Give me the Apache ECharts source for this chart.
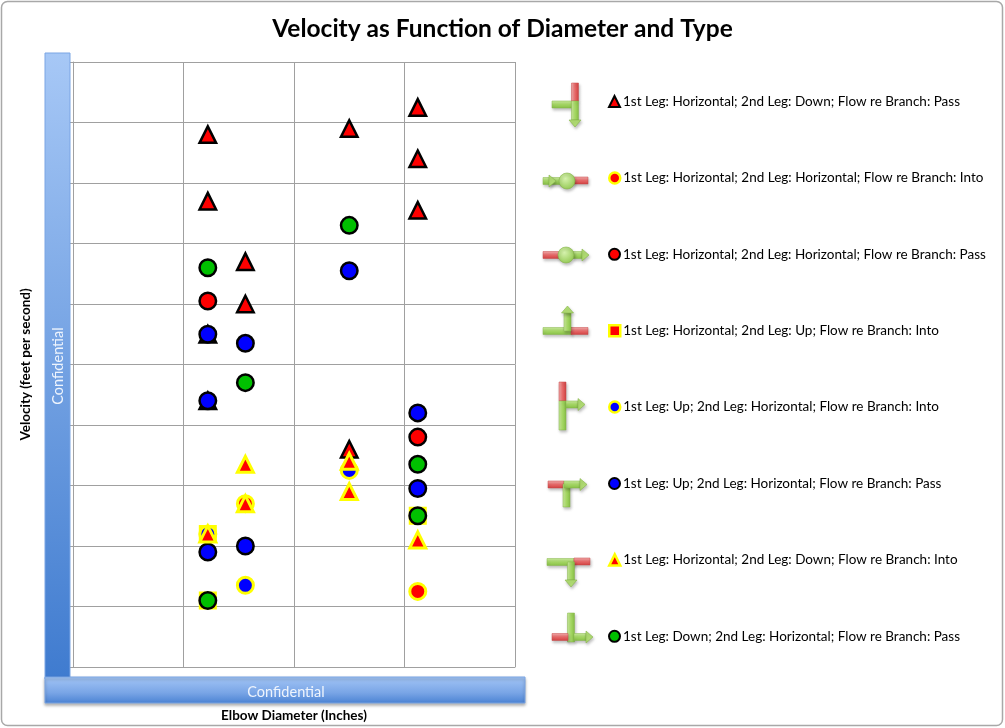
<!DOCTYPE html>
<html>
<head>
<meta charset="utf-8">
<script src="https://cdn.jsdelivr.net/npm/echarts@6/dist/echarts.min.js"></script>
<style>
html,body{margin:0;padding:0;background:#fff;}
#chart{width:1005px;height:728px;}
</style>
</head>
<body>
<div id="chart"></div>
<script>
// ---- data ----
const seriesNames = [
  '1st Leg: Horizontal; 2nd Leg: Down; Flow re Branch: Pass',
  '1st Leg: Horizontal; 2nd Leg: Horizontal; Flow re Branch: Into',
  '1st Leg: Horizontal; 2nd Leg: Horizontal; Flow re Branch: Pass',
  '1st Leg: Horizontal; 2nd Leg: Up; Flow re Branch: Into',
  '1st Leg: Up; 2nd Leg: Horizontal; Flow re Branch: Into',
  '1st Leg: Up; 2nd Leg: Horizontal; Flow re Branch: Pass',
  '1st Leg: Horizontal; 2nd Leg: Down; Flow re Branch: Into',
  '1st Leg: Down; 2nd Leg: Horizontal; Flow re Branch: Pass'
];
// [elbow diameter (in), velocity (ft/s)]
const hDownPass  = [[6.1,17.6],[6.1,15.4],[7.8,13.4],[7.8,12.0],[6.1,11.0],[6.1,8.8],[12.5,17.8],[12.5,7.2],[15.6,18.5],[15.6,16.8],[15.6,15.1]];
const hHorizInto = [[7.8,5.4],[15.6,2.5]];
const hHorizPass = [[6.1,12.1],[15.6,7.6]];
const hUpInto    = [[6.1,4.4],[6.1,2.2],[15.6,5.0]];
const upHorizInto= [[6.1,4.4],[7.8,2.7],[12.5,6.5]];
const upHorizPass= [[6.1,11.0],[6.1,8.8],[7.8,10.7],[6.1,3.8],[7.8,4.0],[12.5,13.1],[15.6,8.4],[15.6,5.9]];
const hDownInto  = [[7.8,6.7],[7.8,5.4],[6.1,4.4],[12.5,6.8],[12.5,5.8],[15.6,4.2]];
const downHorizPass = [[6.1,13.2],[7.8,9.4],[12.5,14.6],[15.6,6.7],[15.6,5.0],[6.1,2.2]];
const xTicks = {min:0, max:20, interval:5};
const yTicks = {min:0, max:20, interval:2};

// ---- styles ----
const RED='#ff0000', BLUE='#0000ff', GREEN='#00c000', YEL='#ffff00', BLK='#000000';
const seriesStyles = [
  {data:hDownPass,    symbol:'triangle', fill:RED,   border:BLK, bw:2.5, size:16.5},
  {data:hHorizInto,   symbol:'circle',   fill:RED,   border:YEL, bw:3,   size:16},
  {data:hHorizPass,   symbol:'circle',   fill:RED,   border:BLK, bw:2.5, size:16.5},
  {data:hUpInto,      symbol:'rect',     fill:RED,   border:YEL, bw:3,   size:15},
  {data:upHorizInto,  symbol:'circle',   fill:BLUE,  border:YEL, bw:3,   size:16},
  {data:upHorizPass,  symbol:'circle',   fill:BLUE,  border:BLK, bw:2.5, size:16.5},
  {data:hDownInto,    symbol:'triangle', fill:RED,   border:YEL, bw:3,   size:16},
  {data:downHorizPass,symbol:'circle',   fill:GREEN, border:BLK, bw:2.5, size:16.5}
];

const FONT = 'Lato, "Open Sans", sans-serif';

// ---- decorative pipe icons ----
const gGrad = (vertical) => new echarts.graphic.LinearGradient(0, 0, vertical?1:0, vertical?0:1,
  [{offset:0,color:'#cdeea0'},{offset:0.5,color:'#a6d865'},{offset:1,color:'#86bf45'}]);
const rGrad = (vertical) => new echarts.graphic.LinearGradient(0, 0, vertical?1:0, vertical?0:1,
  [{offset:0,color:'#f6b0b0'},{offset:0.5,color:'#e86a6a'},{offset:1,color:'#d04040'}]);
const shadow = {shadowBlur:3, shadowOffsetX:1, shadowOffsetY:2, shadowColor:'rgba(0,0,0,0.25)'};
const T = 3.5;
function hbar(x1,x2,yc,c){return {type:'rect',shape:{x:x1,y:yc-T,width:x2-x1,height:2*T},style:Object.assign({fill:c==='g'?gGrad(false):rGrad(false),stroke:c==='g'?'#86b64a':'#c84a4a',lineWidth:0.5},shadow)};}
function vbar(xc,y1,y2,c){return {type:'rect',shape:{x:xc-T,y:y1,width:2*T,height:y2-y1},style:Object.assign({fill:c==='g'?gGrad(true):rGrad(true),stroke:c==='g'?'#86b64a':'#c84a4a',lineWidth:0.5},shadow)};}
function arrow(dir,bx,by,len){
  const w=6; let pts;
  if(dir==='r') pts=[[bx,by-w],[bx+len,by],[bx,by+w]];
  if(dir==='d') pts=[[bx-w,by],[bx,by+len],[bx+w,by]];
  if(dir==='u') pts=[[bx-w,by],[bx,by-len],[bx+w,by]];
  return {type:'polygon',shape:{points:pts},style:Object.assign({fill:'#b2de74',stroke:'#86b64a',lineWidth:0.6},shadow)};
}
function ball(x,y){return {type:'circle',shape:{cx:x,cy:y,r:8},style:Object.assign({fill:new echarts.graphic.RadialGradient(0.4,0.35,0.7,[{offset:0,color:'#d6f2ae'},{offset:1,color:'#93c952'}]),stroke:'#86b64a',lineWidth:0.6},shadow)};}

const icons = [
  // 1 H, down, pass
  hbar(552,575,104.5,'g'), vbar(575,83,101,'r'), vbar(575,101,120,'g'), arrow('d',575,120,7),
  // 2 H, H, into
  hbar(543,562,181,'g'), arrow('r',549,181,7), hbar(572,588,180.5,'r'), ball(567,181),
  // 3 H, H, pass
  hbar(543,560,255,'r'), hbar(573,582,255,'g'), arrow('r',582,255,7), ball(566,255),
  // 4 H, up, into
  hbar(543,572,331,'g'), hbar(571,588,331,'r'), vbar(567.5,313,331,'g'), arrow('u',567.5,313,7),
  // 5 up, H, into
  vbar(562.5,382,401,'r'), vbar(562.5,401,430,'g'), hbar(566,578,404.5,'g'), arrow('r',578,404.5,7),
  // 6 up, H, pass
  hbar(548,564,484.5,'r'), vbar(566.5,484,507,'g'), hbar(564,580,484.5,'g'), arrow('r',580,484.5,7),
  // 7 H, down, into
  hbar(547,574,562,'g'), hbar(574,590,561.5,'r'), vbar(571,562,580,'g'), arrow('d',571,580,7),
  // 8 down, H, pass
  vbar(571,613,642,'g'), hbar(552,568,637,'r'), hbar(574,586,637,'g'), arrow('r',586,637,7)
];

const barGradV = new echarts.graphic.LinearGradient(0,0,0,1,[{offset:0,color:'#a7c8f6'},{offset:1,color:'#3f7bcf'}]);
const barGradH = new echarts.graphic.LinearGradient(0,0,0,1,[{offset:0,color:'#a4c6f6'},{offset:0.6,color:'#79a5e6'},{offset:1,color:'#4a82d3'}]);

const decorations = [
  {type:'rect', z:-10, shape:{x:1.5,y:1.5,width:1001,height:724,r:6}, style:{fill:'#fff',stroke:'#a8a8a8',lineWidth:1.5}},
  {type:'rect', z:10, shape:{x:45,y:53,width:25,height:626}, style:{fill:barGradV,stroke:'#7aa5e4',lineWidth:1}},
  {type:'text', z:11, x:58, y:366, rotation:Math.PI/2, style:{text:'Confidential', fill:'#eef4fd', font:'14.5px '+FONT, align:'center', verticalAlign:'middle'}},
  {type:'rect', z:12, shape:{x:45,y:677,width:480,height:26}, style:Object.assign({fill:barGradH,stroke:'#7aa5e4',lineWidth:1},{shadowBlur:3,shadowOffsetY:2,shadowColor:'rgba(0,0,0,0.3)'})},
  {type:'text', z:13, x:286, y:692, style:{text:'Confidential', fill:'#eef4fd', font:'14.5px '+FONT, align:'center', verticalAlign:'middle'}}
];

const chart = echarts.init(document.getElementById('chart'));
const rowY = i => 101.5 + 76.4*i;
chart.setOption({
  animation:false,
  backgroundColor:'#fff',
  title:{text:'Velocity as Function of Diameter and Type', left:'center', top:17, padding:0,
    textStyle:{fontFamily:FONT, fontSize:24.5, fontWeight:'bold', color:'#000'}},
  grid:{left:73, top:62, width:442, height:611, containLabel:false},
  xAxis:{type:'value', min:xTicks.min, max:xTicks.max, interval:xTicks.interval,
    name:'Elbow Diameter (Inches)', nameLocation:'middle', nameGap:42,
    nameTextStyle:{fontFamily:FONT, fontSize:13.5, fontWeight:'bold', color:'#000'},
    axisLine:{show:true, lineStyle:{color:'#a0a0a0', width:1}},
    axisTick:{show:false}, axisLabel:{show:false},
    splitLine:{show:true, lineStyle:{color:'#a0a0a0', width:1}}},
  yAxis:{type:'value', min:yTicks.min, max:yTicks.max, interval:yTicks.interval,
    name:'Velocity (feet per second)', nameLocation:'middle', nameGap:40, nameRotate:90,
    nameTextStyle:{fontFamily:FONT, fontSize:13.5, fontWeight:'bold', color:'#000'},
    axisLine:{show:true, lineStyle:{color:'#a0a0a0', width:1}},
    axisTick:{show:true, length:4, lineStyle:{color:'#a0a0a0'}}, axisLabel:{show:false},
    splitLine:{show:true, lineStyle:{color:'#a0a0a0', width:1}}},
  legend: seriesNames.map((n,i)=>({
    data:[n], orient:'vertical', left:608, top:rowY(i)-7, padding:0,
    itemWidth:11, itemHeight:11, itemGap:4, selectedMode:false,
    itemStyle:{borderWidth: seriesStyles[i].border===YEL ? 2.5 : 2},
    textStyle:{fontFamily:FONT, fontSize:13.5, color:'#000', padding:[0,0,0,-2]}
  })),
  graphic:{elements: decorations.concat(icons)},
  series: seriesStyles.map((s,i)=>({
    name:seriesNames[i], type:'scatter', data:s.data, symbol:s.symbol, symbolSize:s.size,
    itemStyle:{color:s.fill, borderColor:s.border, borderWidth:s.bw, opacity:1},
    emphasis:{disabled:true}
  }))
});
</script>
</body>
</html>
